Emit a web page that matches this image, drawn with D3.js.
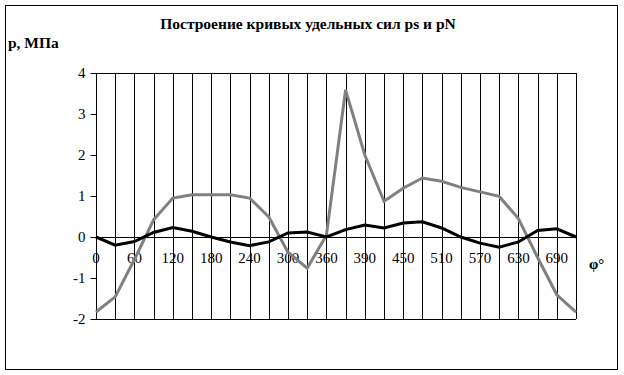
<!DOCTYPE html>
<meta charset="utf-8">
<script src="https://d3js.org/d3.v7.min.js"></script>
<style>
  body { margin: 0; background: #fff; }
  text { font-family: "Liberation Serif", "Times New Roman", serif; }
</style>
<div id="my_dataviz"></div>
<script>
  // categories (crank angle, deg) and series
  var angles = [0, 30, 60, 90, 120, 150, 180, 210, 240, 270, 300, 330, 360, 370,
    390, 420, 450, 480, 510, 540, 570, 600, 630, 660, 690, 720];
  var pGray = [-1.83, -1.46, -0.55, 0.42, 0.95, 1.03, 1.03, 1.03, 0.95, 0.49, -0.37, -0.76, 0.04, 3.59,
    2.0, 0.87, 1.19, 1.44, 1.36, 1.21, 1.10, 0.99, 0.45, -0.5, -1.41, -1.83];
  var pBlack = [0, -0.2, -0.11, 0.11, 0.23, 0.14, 0, -0.12, -0.21, -0.12, 0.1, 0.12, 0, 0.18,
    0.29, 0.22, 0.34, 0.37, 0.22, 0, -0.15, -0.25, -0.12, 0.16, 0.2, 0];
  var yTicks = [-2, -1, 0, 1, 2, 3, 4];

  var W = 624, H = 375;
  var margin = { top: 73, left: 96 },
    width = 480, height = 246;

  var svg = d3.select("#my_dataviz").append("svg")
    .attr("width", W).attr("height", H);

  // outer frame
  svg.append("rect")
    .attr("x", 5.5).attr("y", 5.5).attr("width", 612).attr("height", 364)
    .attr("fill", "none").attr("stroke", "#000").attr("stroke-width", 1);

  svg.append("text")
    .attr("x", 308).attr("y", 29)
    .attr("text-anchor", "middle")
    .style("font-weight", "bold").style("font-size", "15.5px")
    .text("Построение кривых удельных сил ps и pN");

  svg.append("text")
    .attr("x", 8).attr("y", 48)
    .style("font-weight", "bold").style("font-size", "15.5px")
    .text("p, МПа");

  var g = svg.append("g")
    .attr("transform", "translate(" + margin.left + "," + margin.top + ")");

  var x = d3.scalePoint().domain(d3.range(angles.length)).range([0, width]);
  var y = d3.scaleLinear().domain([-2, 4]).range([height, 0]);

  // vertical grid lines at every category
  g.append("g").selectAll("line")
    .data(d3.range(angles.length))
    .enter().append("line")
    .attr("x1", function (d) { return Math.round(x(d)) + 0.5; })
    .attr("x2", function (d) { return Math.round(x(d)) + 0.5; })
    .attr("y1", 0).attr("y2", height)
    .attr("stroke", "#000").attr("stroke-width", 1);

  // plot frame top / bottom
  g.append("line").attr("x1", 0).attr("x2", width).attr("y1", 0.5).attr("y2", 0.5)
    .attr("stroke", "#000");
  g.append("line").attr("x1", 0).attr("x2", width).attr("y1", height + 0.5).attr("y2", height + 0.5)
    .attr("stroke", "#000");

  // y axis
  var yAxis = g.append("g")
    .attr("transform", "translate(0.5,0)")
    .call(d3.axisLeft(y).tickValues(yTicks).tickSize(6).tickPadding(5)
      .tickFormat(function (d) { return String(d); }));
  yAxis.select(".domain").remove();
  yAxis.selectAll("line").attr("stroke", "#000");
  yAxis.selectAll("text").style("font-size", "15px").attr("font-family", null).attr("fill", "#000");

  // zero line
  g.append("line").attr("x1", 0).attr("x2", width)
    .attr("y1", Math.round(y(0)) + 0.5).attr("y2", Math.round(y(0)) + 0.5)
    .attr("stroke", "#000");

  // x labels every 2nd category
  g.append("g").selectAll("text")
    .data(d3.range(0, angles.length, 2))
    .enter().append("text")
    .attr("x", function (d) { return x(d); })
    .attr("y", y(0) + 26)
    .attr("text-anchor", "middle")
    .style("font-size", "15px")
    .text(function (d) { return angles[d]; });

  svg.append("text")
    .attr("x", 589).attr("y", 269)
    .style("font-weight", "bold").style("font-size", "15px")
    .text("φ°");

  var line = d3.line()
    .x(function (d, i) { return x(i); })
    .y(function (d) { return y(d); });

  g.append("path").datum(pGray)
    .attr("d", line).attr("fill", "none")
    .attr("stroke", "#808080").attr("stroke-width", 3);

  g.append("path").datum(pBlack)
    .attr("d", line).attr("fill", "none")
    .attr("stroke", "#000").attr("stroke-width", 3);
</script>
